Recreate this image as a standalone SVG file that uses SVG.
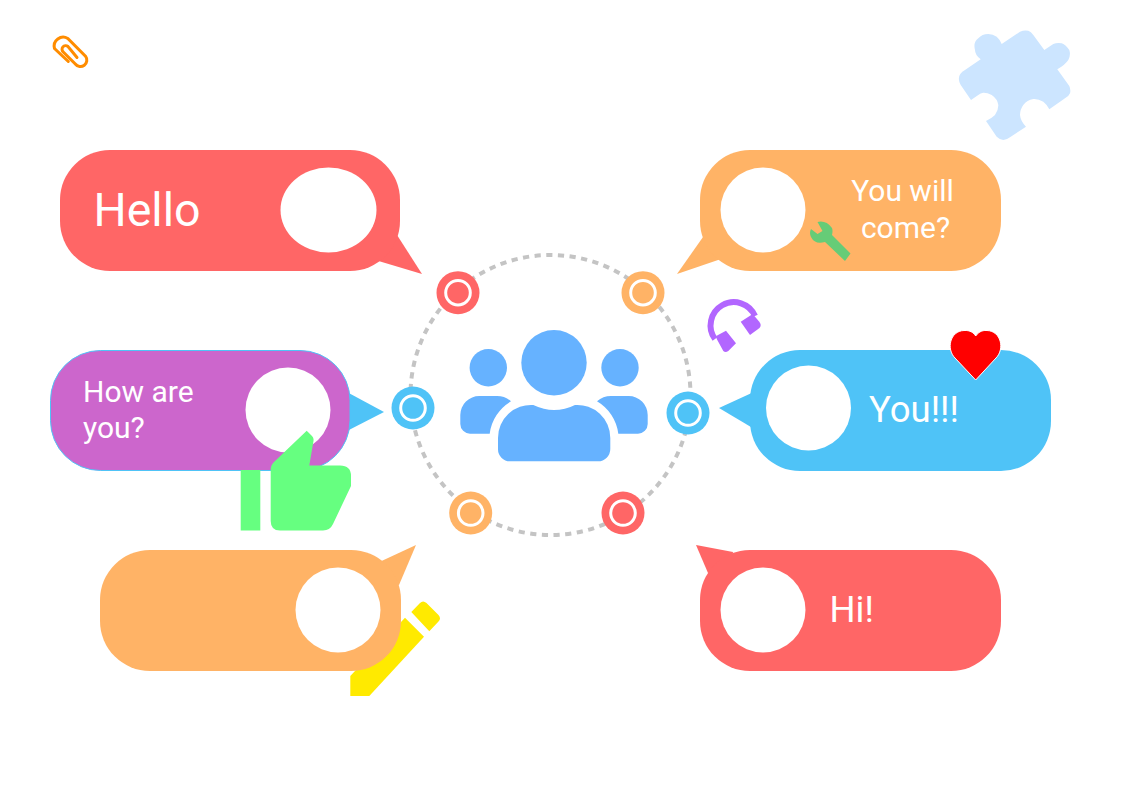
<svg xmlns="http://www.w3.org/2000/svg" width="1123" height="794" viewBox="0 0 1123 794">
<style>
.t{font-family:Roboto,"Liberation Sans",sans-serif;fill:#fff;font-weight:400}
.hole{fill:#fff}
.red{fill:#FF6666}.org{fill:#FFB366}.blu{fill:#4FC3F7}.pur{fill:#CC66CC}.ico{fill:#66B2FF}
.ringw{fill:none;stroke:#fff;stroke-width:3}
</style>
<rect width="1123" height="794" fill="#fff"/>
<g id="connectors"><circle cx="550.500" cy="395" r="140" fill="none" stroke="#C4C4C4" stroke-width="4" stroke-dasharray="6.200 5.500"/></g>
<g id="paperclip"><path d="M68.300 61.500L54.500 48.500A9 9 0 0 1 67.800 38.500L85.500 56.200A6.300 6.300 0 0 1 75.300 64L63.300 52A3.500 3.500 0 0 1 68 46.500L77 57.500" fill="none" stroke="#FF8C00" stroke-width="3" stroke-linecap="round"/></g>
<g id="puzzle"><path fill="#CCE5FF" d="M959 80Q958 74 965 70L980.700 59.300Q975 55 975 50Q973 42 978.300 38.300Q982 34 988.300 34Q993 34 996.700 36.700Q999.500 39 1001.700 44L1020 31.700Q1024 29.800 1028.300 30.700Q1031 31.500 1033.300 35L1044.300 50L1053.300 44Q1057 42.500 1061.700 43.300Q1066 45 1069.300 50Q1071 55 1068.300 60Q1065 65 1057.300 69.300L1069.300 86Q1071 90 1070 93.300Q1069 96 1065 98.300L1049.300 109.300Q1047 104.500 1043.300 101.700Q1038 98.500 1033.300 99Q1027 100 1023.300 105Q1020 109.500 1020 115Q1020.500 121 1026 126.700L1010 137.300Q1006.500 140 1003.300 140Q999.500 139.500 996.700 136.700L986 121Q992 118 995 115Q998.500 110 998.300 105Q997.500 99 991.700 95Q987 92.500 983.300 92.700Q980.500 93 978.300 95L971 100L960.700 85Q959 82 959 80Z"/></g>
<g id="people" class="ico">
<circle cx="554" cy="362.700" r="32.700"/><circle cx="488.300" cy="367.700" r="18.700"/><circle cx="620" cy="367.700" r="18.700"/>
<path d="M533.300 405Q544 410 554 410Q565 410 575 405A33 33 0 0 1 610.300 438V449A12.300 12.300 0 0 1 598 461.300H510A12 12 0 0 1 498 449V438A33 33 0 0 1 533.300 405Z"/>
<path d="M489.700 433.700H470A9.700 9.700 0 0 1 460.300 424V415A19 19 0 0 1 479.500 396H497Q505 396 511 401.300A44 44 0 0 0 489.700 433.700Z"/>
<path d="M618.300 433.700H638A9.700 9.700 0 0 0 647.700 424V415A19 19 0 0 0 628.500 396H611Q603 396 597 401.300A44 44 0 0 1 618.300 433.700Z"/>
</g>
<g id="dot-1"><circle class="red" cx="458" cy="292.700" r="21.500"/><circle class="ringw" cx="458" cy="292.700" r="12.300"/></g>
<g id="dot-2"><circle class="org" cx="643" cy="292.700" r="21.500"/><circle class="ringw" cx="643" cy="292.700" r="12.300"/></g>
<g id="dot-3"><circle class="blu" cx="413" cy="408" r="21.500"/><circle class="ringw" cx="413" cy="408" r="12.300"/></g>
<g id="dot-4"><circle class="blu" cx="688" cy="413" r="21.500"/><circle class="ringw" cx="688" cy="413" r="12.300"/></g>
<g id="dot-5"><circle class="org" cx="470.700" cy="513" r="21.500"/><circle class="ringw" cx="470.700" cy="513" r="12.300"/></g>
<g id="dot-6"><circle class="red" cx="623" cy="513" r="21.500"/><circle class="ringw" cx="623" cy="513" r="12.300"/></g>
<g id="pencil" fill="#FFEA00"><path d="M411.300 612L420 603Q423 600 426.500 603L438.500 615Q441.500 618.500 438.500 621.500L429.300 631.300Z"/><path d="M405 617.700L424 636.700L369.300 696H350.300V676Z"/></g>
<g id="bubble-hello"><path class="red" d="M397 235L422 274L378.500 261L370 240Z"/><rect class="red" x="60" y="150" width="340" height="121" rx="50"/><ellipse class="hole" cx="328.500" cy="210" rx="48" ry="42.500"/><text class="t" x="93.500" y="226" font-size="46.500">Hello</text></g>
<g id="bubble-come"><path class="org" d="M703 237L677 274L721 259L730 240Z"/><rect class="org" x="700" y="150" width="301" height="121" rx="50"/><circle class="hole" cx="763" cy="210" r="42.500"/><text class="t" x="902.500" y="201" font-size="30" text-anchor="middle">You will</text><text class="t" x="905.500" y="238" font-size="30" text-anchor="middle">come?</text></g>
<g id="wrench"><path fill="#66CC77" d="M811 229L817.500 234L822.500 231L817.500 222Q826 220 832 228Q833 231 832 235L850.500 253.500L845 261L825 242Q815 245 811 237Q809 233 811 229Z"/></g>
<g id="bubble-how"><path class="blu" d="M345 391L384 412L345 432Z"/><rect class="pur" x="50.500" y="350.500" width="299.500" height="120" rx="50" stroke="#4FC3F7"/><circle class="hole" cx="288" cy="410" r="42.500"/><text class="t" x="83" y="402" font-size="30">How are</text><text class="t" x="83" y="438" font-size="30">you?</text></g>
<g id="thumb" fill="#66FF80"><rect x="240.700" y="470" width="19.600" height="60.500"/><path d="M270.700 470Q270.700 465 274 462L306.700 430.700L312 436Q314 438 313.500 441L309.300 465.500H340Q351 465.500 351 476V486L333 524Q330 530.500 323 530.500H280Q270.700 530.500 270.700 521Z"/></g>
<g id="bubble-you"><path class="blu" d="M756 391L719 408L756 430Z"/><rect class="blu" x="750" y="350" width="301" height="121" rx="50"/><circle class="hole" cx="808.500" cy="408" r="42.500"/><text class="t" x="869" y="422" font-size="36.500">You!!!</text></g>
<g id="heart"><path fill="#FF0000" stroke="#fff" d="M975.700 380L955 358C946 349 950 331 964 330.500C970 330 974 333 975.700 336C978 333 981 330 987 330.500C1001 331 1005 349 996 358Z"/></g>
<g id="headphones" fill="#B266FF"><path d="M715 339A23.200 23.200 0 1 1 755 316" fill="none" stroke="#B266FF" stroke-width="6"/><path d="M726 330.700L736 343.300L728.300 351Q725.500 353 723.300 351L717.300 340Q715 336 718 335Z"/><path d="M740.700 321.700L752.700 314L759.300 321.700Q762 325 759.500 328L750 335Z"/></g>
<g id="bubble-blank"><path class="org" d="M381.500 561L416 545L399 585L375 580Z"/><rect class="org" x="100" y="550" width="301" height="121" rx="50"/><circle class="hole" cx="338" cy="610" r="42.500"/></g>
<g id="bubble-hi"><path class="red" d="M708 573L696 545L733 552L730 570Z"/><rect class="red" x="700" y="550" width="301" height="121" rx="50"/><circle class="hole" cx="763" cy="610" r="42.500"/><text class="t" x="829.500" y="622" font-size="36.500">Hi!</text></g>
</svg>
